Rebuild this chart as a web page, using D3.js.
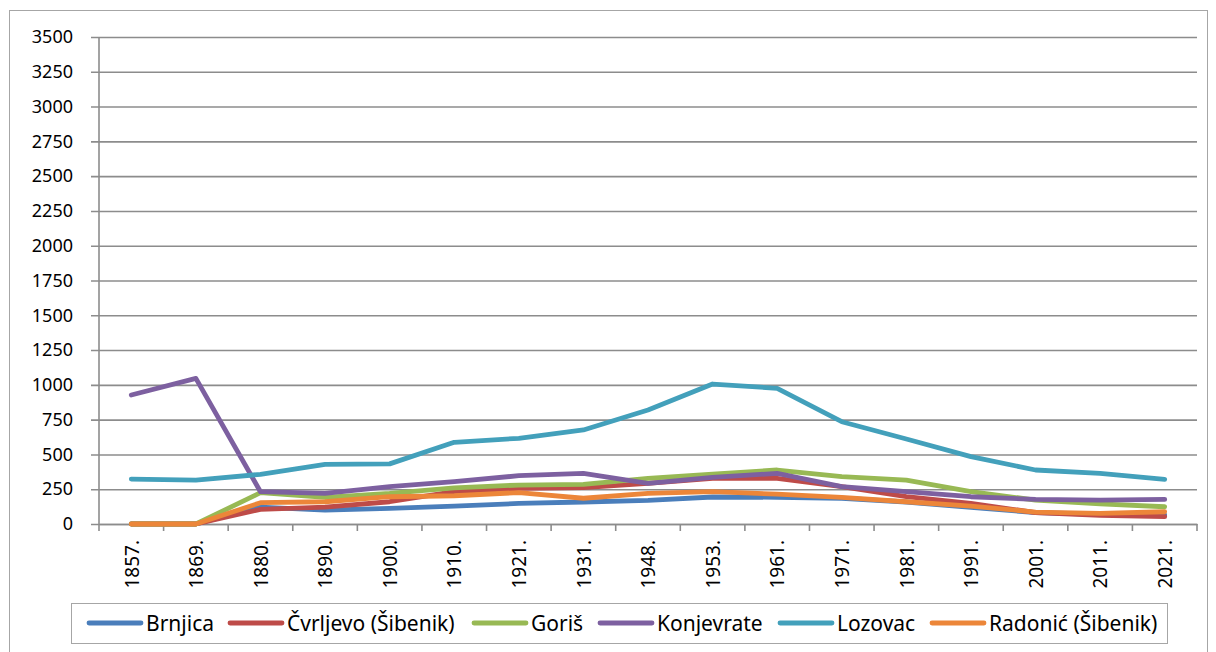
<!DOCTYPE html>
<html>
<head>
<meta charset="utf-8">
<script src="https://cdn.jsdelivr.net/npm/d3@7"></script>
<style>
  body { margin: 0; background: #fff; }
  svg { display: block; }
</style>
</head>
<body>
<div id="chart"></div>
<script>
// census years
const years = ["1857.", "1869.", "1880.", "1890.", "1900.", "1910.", "1921.", "1931.", "1948.",
  "1953.", "1961.", "1971.", "1981.", "1991.", "2001.", "2011.", "2021."];
const yTicks = [0, 250, 500, 750, 1000, 1250, 1500, 1750, 2000, 2250, 2500, 2750, 3000, 3250, 3500];

const brnjica    = [0, 0, 122, 100, 112, 128, 148, 158, 170, 194, 192, 185, 158, 120, 82, 70, 65];
const cvrljevo   = [0, 0, 105, 122, 160, 232, 256, 262, 292, 328, 328, 268, 196, 149, 82, 62, 53];
const goris      = [0, 0, 225, 192, 220, 260, 280, 285, 328, 359, 388, 340, 316, 232, 172, 144, 124];
const konjevrate = [927, 1047, 232, 220, 268, 304, 347, 364, 292, 335, 364, 268, 232, 196, 177, 172, 177];
const lozovac    = [323, 316, 357, 429, 432, 587, 616, 676, 819, 1006, 975, 735, 611, 484, 388, 364, 321];
const radonic    = [0, 0, 153, 160, 196, 203, 226, 185, 220, 232, 215, 192, 160, 129, 86, 77, 88];

const seriesNames = ["Brnjica", "Čvrljevo (Šibenik)", "Goriš", "Konjevrate", "Lozovac", "Radonić (Šibenik)"];
const seriesColors = ["#4A7EBB", "#BE4B48", "#98B954", "#7D60A0", "#43A0BB", "#EC8639"];
const series = [brnjica, cvrljevo, goris, konjevrate, lozovac, radonic];

const svgWidth = 1216, svgHeight = 652;
const margin = {top: 37, left: 99, right: 20, bottom: 128};
const width = 1197 - margin.left;
const height = 524 - margin.top;
const fontFamily = "'Noto Sans', 'Open Sans', sans-serif";

const svg = d3.select("#chart").append("svg")
  .attr("width", svgWidth)
  .attr("height", svgHeight);

// outer chart border (bottom edge is off the picture)
svg.append("rect")
  .attr("x", 9.5).attr("y", 10.5)
  .attr("width", 1198).attr("height", 660)
  .attr("fill", "none")
  .attr("stroke", "#a6a6a6")
  .attr("stroke-width", 1);

const chart = svg.append("g")
  .attr("transform", "translate(" + margin.left + "," + margin.top + ")");

const xScale = d3.scaleBand().domain(years).range([0, width]);
const yScale = d3.scaleLinear().domain([0, 3500]).range([height, 0]);

// horizontal grid + y labels
const yAxis = d3.axisLeft(yScale)
  .tickValues(yTicks)
  .tickSize(-width)
  .tickSizeOuter(0)
  .tickPadding(26)
  .tickFormat(d3.format("d"));

const gy = chart.append("g").call(yAxis);
gy.select(".domain").remove();
gy.selectAll(".tick line")
  .attr("x1", -8)
  .attr("stroke", "#8c8c8c")
  .attr("stroke-width", 1.6);
gy.selectAll(".tick text")
  .attr("font-family", fontFamily)
  .attr("font-size", 18)
  .attr("fill", "#000");

// y axis line
chart.append("line")
  .attr("x1", 0).attr("x2", 0)
  .attr("y1", 0).attr("y2", height)
  .attr("stroke", "#8c8c8c")
  .attr("stroke-width", 1.6);

// x axis: ticks between categories, rotated labels
const xAxis = d3.axisBottom(xScale).tickSize(0);
const gx = chart.append("g")
  .attr("transform", "translate(0," + height + ")")
  .call(xAxis);
gx.select(".domain")
  .attr("stroke", "#8c8c8c")
  .attr("stroke-width", 1.6);
gx.selectAll(".tick text")
  .attr("font-family", fontFamily)
  .attr("font-size", 19)
  .attr("fill", "#000")
  .attr("text-anchor", "end")
  .attr("transform", "rotate(-90)")
  .attr("x", -16)
  .attr("y", 0)
  .attr("dy", "0.38em");

const boundaries = d3.range(years.length + 1).map(i => i * xScale.step());
gx.selectAll(".sep")
  .data(boundaries)
  .enter().append("line")
  .attr("class", "sep")
  .attr("x1", d => d).attr("x2", d => d)
  .attr("y1", 0).attr("y2", 7)
  .attr("stroke", "#8c8c8c")
  .attr("stroke-width", 1.6);

// lines
const line = d3.line()
  .x((d, i) => xScale(years[i]) + xScale.bandwidth() / 2)
  .y(d => yScale(d));

series.forEach((s, k) => {
  chart.append("path")
    .datum(s)
    .attr("d", line)
    .attr("fill", "none")
    .attr("stroke", seriesColors[k])
    .attr("stroke-width", 4.8)
    .attr("stroke-linejoin", "round")
    .attr("stroke-linecap", "round");
});

// legend
const legend = svg.append("g");
legend.append("rect")
  .attr("x", 71.5).attr("y", 603.5)
  .attr("width", 1096).attr("height", 40)
  .attr("fill", "#fff")
  .attr("stroke", "#a6a6a6");

const legendX = [87, 228, 472, 598, 778, 930];
seriesNames.forEach((name, k) => {
  const item = legend.append("g").attr("transform", "translate(" + legendX[k] + ",623)");
  item.append("line")
    .attr("x1", 2).attr("x2", 54)
    .attr("stroke", seriesColors[k])
    .attr("stroke-width", 4.8)
    .attr("stroke-linecap", "round");
  item.append("text")
    .attr("x", 59)
    .attr("dy", "0.36em")
    .attr("font-family", fontFamily)
    .attr("font-size", 21)
    .attr("fill", "#000")
    .text(name);
});
</script>
</body>
</html>
